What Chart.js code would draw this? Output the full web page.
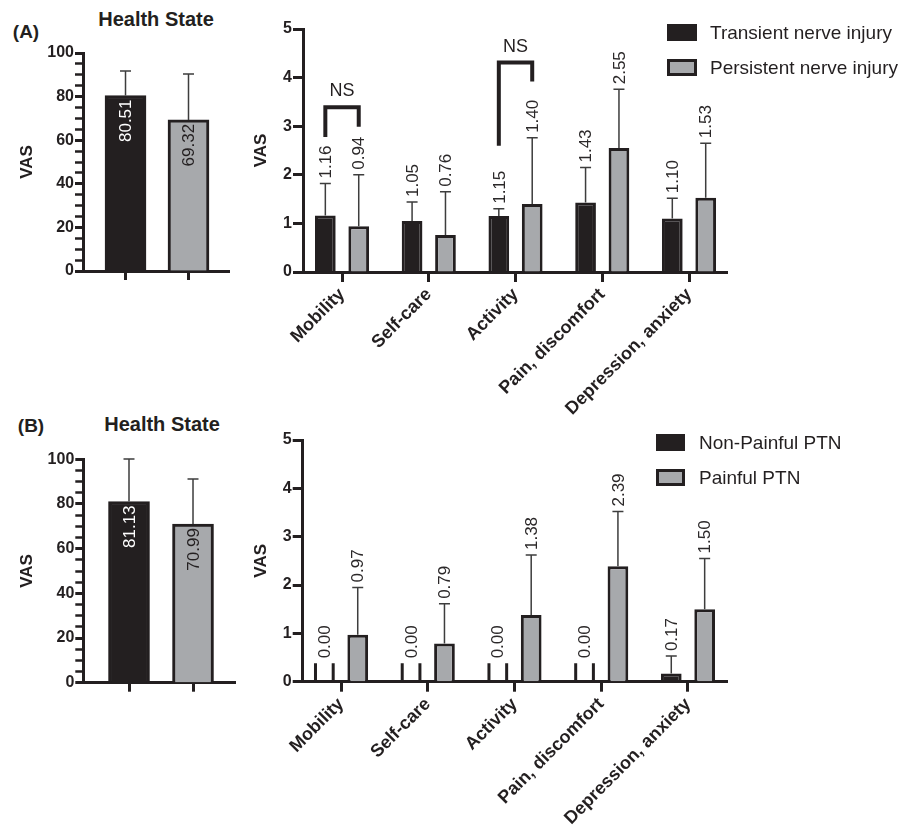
<!DOCTYPE html>
<html>
<head>
<meta charset="utf-8">
<script src="https://cdn.jsdelivr.net/npm/chart.js@4.4.1/dist/chart.umd.min.js"></script>
<style>
  html, body { margin: 0; padding: 0; background: #fff; }
  #fig { position: relative; width: 915px; height: 828px; overflow: hidden;
         font-family: "Liberation Sans", Arial, Helvetica, sans-serif; color: #231f20; }
  #fig canvas { position: absolute; }
  .txt { position: absolute; white-space: nowrap; line-height: 1; transform: translate(-50%, -50%); }
  .panel { font-weight: bold; font-size: 19px; }
  .title { font-weight: bold; font-size: 20px; }
  .legend { position: absolute; font-size: 19px; }
  .legend .item { position: absolute; left: 0; display: flex; align-items: center; height: 17px; white-space: nowrap; }
  .legend .sw { box-sizing: border-box; display: inline-block; height: 17px; }
</style>
</head>
<body>
<div id="fig">
  <div class="txt panel" style="left:26px;top:31px">(A)</div>
  <div class="txt title" style="left:156px;top:19px">Health State</div>
  <div class="txt panel" style="left:31px;top:425px">(B)</div>
  <div class="txt title" style="left:162px;top:424px">Health State</div>

  <canvas id="hsA" width="250" height="260" style="left:0;top:40px"></canvas>
  <canvas id="eqA" width="665" height="420" style="left:250px;top:0"></canvas>
  <canvas id="hsB" width="250" height="260" style="left:0;top:440px"></canvas>
  <canvas id="eqB" width="665" height="408" style="left:250px;top:420px"></canvas>

  <div class="legend" id="legA" style="left:667px;top:24px"></div>
  <div class="legend" id="legB" style="left:656px;top:434px"></div>
</div>

<script>
// EQ-5D dimensions shown on the x axis
const dimensions = ['Mobility', 'Self-care', 'Activity', 'Pain, discomfort', 'Depression, anxiety'];
const vasTicks = [0, 1, 2, 3, 4, 5];

// (A) transient vs persistent nerve injury
const seriesA = ['Transient nerve injury', 'Persistent nerve injury'];
const healthA = [80.51, 69.32];
const healthA_sd = [11.2, 21.1];
const transientMean = [1.16, 1.05, 1.15, 1.43, 1.10];
const transientSD = [0.66, 0.39, 0.15, 0.72, 0.42];
const persistentMean = [0.94, 0.76, 1.40, 2.55, 1.53];
const persistentSD = [1.06, 0.89, 1.36, 1.21, 1.12];

// significance brackets: category index, bracket height, left / right leg ends (VAS units)
const bracketsA = [
  { at: 0, top: 3.39, leftEnd: 2.78, rightEnd: 2.99, text: 'NS' },
  { at: 2, top: 4.31, leftEnd: 2.60, rightEnd: 3.92, text: 'NS' }
];

// (B) non-painful vs painful PTN
const seriesB = ['Non-Painful PTN', 'Painful PTN'];
const healthB = [81.13, 70.99];
const healthB_sd = [19.0, 20.2];
const nonPainfulMean = [0.00, 0.00, 0.00, 0.00, 0.17];
const nonPainfulSD = [0, 0, 0, 0, 0.36];
const painfulMean = [0.97, 0.79, 1.38, 2.39, 1.50];
const painfulSD = [0.98, 0.82, 1.24, 1.13, 1.05];

const INK = '#231f20';
const GREY = '#a7a9ac';
const FONT = '"Liberation Sans", Arial, Helvetica, sans-serif';
Chart.defaults.font.family = FONT;
Chart.defaults.color = INK;

const valueOf = (ds, i) => ds.data[i].y;

// upward error bars with a cap
const errorBars = {
  id: 'errorBars',
  afterDatasetsDraw(chart, args, o) {
    const { ctx } = chart, y = chart.scales.y;
    chart.data.datasets.forEach((ds, di) => {
      chart.getDatasetMeta(di).data.forEach((bar, i) => {
        const sd = ds.sd[i];
        if (!sd) return;
        const top = y.getPixelForValue(valueOf(ds, i) + sd);
        ctx.save();
        ctx.strokeStyle = o.color; ctx.lineWidth = o.width;
        ctx.beginPath();
        ctx.moveTo(bar.x, bar.y); ctx.lineTo(bar.x, top);
        ctx.moveTo(bar.x - o.cap / 2, top); ctx.lineTo(bar.x + o.cap / 2, top);
        ctx.stroke();
        ctx.restore();
      });
    });
  }
};

// short side strokes marking bars whose mean is zero
const zeroStubs = {
  id: 'zeroStubs',
  afterDatasetsDraw(chart, args, o) {
    if (!o.height) return;
    const { ctx } = chart, y = chart.scales.y;
    chart.data.datasets.forEach((ds, di) => {
      chart.getDatasetMeta(di).data.forEach((bar, i) => {
        if (valueOf(ds, i) !== 0) return;
        const base = y.getPixelForValue(0), top = y.getPixelForValue(o.height);
        const half = bar.width / 2 - o.width / 2;
        ctx.save();
        ctx.strokeStyle = INK; ctx.lineWidth = o.width;
        ctx.beginPath();
        ctx.moveTo(bar.x - half, base); ctx.lineTo(bar.x - half, top);
        ctx.moveTo(bar.x + half, base); ctx.lineTo(bar.x + half, top);
        ctx.stroke();
        ctx.restore();
      });
    });
  }
};

// vertical value labels, either above the error bar or inside the bar top
const valueLabels = {
  id: 'valueLabels',
  afterDatasetsDraw(chart, args, o) {
    const { ctx } = chart, y = chart.scales.y;
    chart.data.datasets.forEach((ds, di) => {
      chart.getDatasetMeta(di).data.forEach((bar, i) => {
        const v = valueOf(ds, i);
        ctx.save();
        ctx.font = o.font;
        ctx.textBaseline = 'middle';
        let anchor;
        if (o.inside) {
          anchor = bar.y + o.gap;
          ctx.textAlign = 'right';
          ctx.fillStyle = ds.labelColor[i];
        } else {
          const topV = v === 0 ? o.stub : v + (ds.sd[i] || 0);
          anchor = y.getPixelForValue(topV) - o.gap;
          ctx.textAlign = 'left';
          ctx.fillStyle = o.color;
        }
        ctx.translate(bar.x, anchor);
        ctx.rotate(-Math.PI / 2);
        ctx.fillText(v.toFixed(2), 0, 1);
        ctx.restore();
      });
    });
  }
};

// comparison brackets between the two bars of a category
const brackets = {
  id: 'brackets',
  afterDatasetsDraw(chart, args, o) {
    if (!o.items) return;
    const { ctx } = chart, y = chart.scales.y;
    o.items.forEach(b => {
      const x1 = chart.getDatasetMeta(0).data[b.at].x;
      const x2 = chart.getDatasetMeta(1).data[b.at].x;
      const yt = y.getPixelForValue(b.top);
      ctx.save();
      ctx.strokeStyle = INK; ctx.lineWidth = 4; ctx.lineJoin = 'miter'; ctx.lineCap = 'butt';
      ctx.beginPath();
      ctx.moveTo(x1, y.getPixelForValue(b.leftEnd));
      ctx.lineTo(x1, yt); ctx.lineTo(x2, yt);
      ctx.lineTo(x2, y.getPixelForValue(b.rightEnd));
      ctx.stroke();
      ctx.font = '18px ' + FONT;
      ctx.fillStyle = INK; ctx.textAlign = 'center'; ctx.textBaseline = 'middle';
      ctx.fillText(b.text, (x1 + x2) / 2, yt - 16);
      ctx.restore();
    });
  }
};

const axisBorder = { display: true, width: 3, color: INK };

function healthChart(id, means, sds, geo) {
  return new Chart(document.getElementById(id), {
    type: 'bar',
    data: {
      datasets: [{
        data: means.map((v, i) => ({ x: i, y: v })),
        sd: sds,
        labelColor: ['#ffffff', INK],
        backgroundColor: [INK, GREY],
        borderColor: INK,
        borderWidth: 3,
        barThickness: 41
      }]
    },
    options: {
      responsive: false, animation: false, devicePixelRatio: 1,
      layout: { padding: { top: geo.top, right: geo.right, left: 0, bottom: 0 } },
      plugins: {
        legend: { display: false }, tooltip: { enabled: false },
        errorBars: { color: '#3d3d3d', width: 1.5, cap: 11 },
        valueLabels: { inside: true, gap: 4, font: '17px ' + FONT },
        zeroStubs: {}, brackets: {}
      },
      scales: {
        x: {
          type: 'linear', min: geo.xmin, max: geo.xmax, offset: false,
          afterBuildTicks: s => { s.ticks = means.map((_, i) => ({ value: i })); },
          afterFit: s => { s.height = geo.xh; },
          ticks: { callback: () => '', autoSkip: false, maxRotation: 0 },
          grid: { offset: false, drawOnChartArea: false, tickLength: 9, tickWidth: 3, tickColor: INK },
          border: axisBorder
        },
        y: {
          min: 0, max: 100,
          afterFit: s => { s.width = geo.yw; },
          ticks: { stepSize: 5, autoSkip: false, padding: 1, color: INK, font: { size: 16, weight: 'bold' },
                   callback: v => (v % 20 === 0 ? v : '') },
          grid: { drawOnChartArea: false, tickLength: 8, tickColor: INK,
                  tickWidth: c => (c.tick && c.tick.value % 20 === 0 ? 3 : 2.5) },
          border: axisBorder,
          title: { display: true, text: 'VAS', color: INK, font: { size: 17, weight: 'bold' },
                   padding: { top: 17, bottom: 0 } }
        }
      }
    },
    plugins: [errorBars, valueLabels, zeroStubs, brackets]
  });
}

function dimensionChart(id, series, geo) {
  return new Chart(document.getElementById(id), {
    type: 'bar',
    data: {
      datasets: series.map(s => ({
        label: s.label,
        data: s.mean.map((v, i) => ({ x: i, y: v })),
        sd: s.sd,
        backgroundColor: s.fill,
        borderColor: INK,
        borderWidth: 3,
        categoryPercentage: 0.77,
        barPercentage: 0.62
      }))
    },
    options: {
      responsive: false, animation: false, devicePixelRatio: 1,
      layout: { padding: { top: geo.top, right: geo.right, left: 0, bottom: 0 } },
      plugins: {
        legend: { display: false }, tooltip: { enabled: false },
        errorBars: { color: '#3d3d3d', width: 1.5, cap: 11 },
        valueLabels: { inside: false, gap: 5, stub: 0.38, color: '#2b2829', font: '17px ' + FONT },
        zeroStubs: { height: 0.38, width: 3 },
        brackets: { items: geo.brackets }
      },
      scales: {
        x: {
          type: 'linear', min: geo.xmin, max: geo.xmax, offset: false,
          afterBuildTicks: s => { s.ticks = dimensions.map((_, i) => ({ value: i })); },
          afterFit: s => { s.height = geo.xh; },
          ticks: { autoSkip: false, minRotation: 45, maxRotation: 45, padding: 2, color: INK,
                   font: { size: 18, weight: 'bold' },
                   callback: v => (dimensions[v] !== undefined ? dimensions[v] : '') },
          grid: { offset: false, drawOnChartArea: false, tickLength: 10, tickWidth: 3, tickColor: INK },
          border: axisBorder
        },
        y: {
          min: 0, max: 5,
          afterBuildTicks: s => { s.ticks = vasTicks.map(v => ({ value: v })); },
          afterFit: s => { s.width = geo.yw; },
          ticks: { padding: 1, color: INK, font: { size: 16, weight: 'bold' } },
          grid: { drawOnChartArea: false, tickLength: 10, tickWidth: 3, tickColor: INK },
          border: axisBorder,
          title: { display: true, text: 'VAS', color: INK, font: { size: 17, weight: 'bold' },
                   padding: { top: 1, bottom: 0 } }
        }
      }
    },
    plugins: [errorBars, valueLabels, zeroStubs, brackets]
  });
}

function htmlLegend(el, chart) {
  chart.data.datasets.forEach((ds, i) => {
    const item = document.createElement('div');
    item.className = 'item';
    item.style.top = (i * 35) + 'px';
    const sw = document.createElement('span');
    sw.className = 'sw';
    sw.style.width = el.dataset.w + 'px';
    sw.style.marginRight = el.dataset.gap + 'px';
    sw.style.background = ds.backgroundColor;
    sw.style.border = '3px solid ' + ds.borderColor;
    const tx = document.createElement('span');
    tx.textContent = ds.label;
    item.appendChild(sw); item.appendChild(tx);
    el.appendChild(item);
  });
}

healthChart('hsA', healthA, healthA_sd,
  { top: 13, right: 21, yw: 83, xh: 29, xmin: -0.675, xmax: 1.643 });
healthChart('hsB', healthB, healthB_sd,
  { top: 19.3, right: 15, yw: 83.3, xh: 17.3, xmin: -0.714, xmax: 1.656 });

const eqA = dimensionChart('eqA', [
  { label: seriesA[0], mean: transientMean, sd: transientSD, fill: INK },
  { label: seriesA[1], mean: persistentMean, sd: persistentSD, fill: GREY }
], { top: 29, right: 188, yw: 53, xh: 148, xmin: -0.45, xmax: 4.438, brackets: bracketsA });

const eqB = dimensionChart('eqB', [
  { label: seriesB[0], mean: nonPainfulMean, sd: nonPainfulSD, fill: INK },
  { label: seriesB[1], mean: painfulMean, sd: painfulSD, fill: GREY }
], { top: 20, right: 188, yw: 52.7, xh: 146.3, xmin: -0.442, xmax: 4.45, brackets: [] });

const legA = document.getElementById('legA');
legA.dataset.w = 30; legA.dataset.gap = 13;
htmlLegend(legA, eqA);
const legB = document.getElementById('legB');
legB.dataset.w = 29; legB.dataset.gap = 14;
htmlLegend(legB, eqB);
</script>
</body>
</html>
